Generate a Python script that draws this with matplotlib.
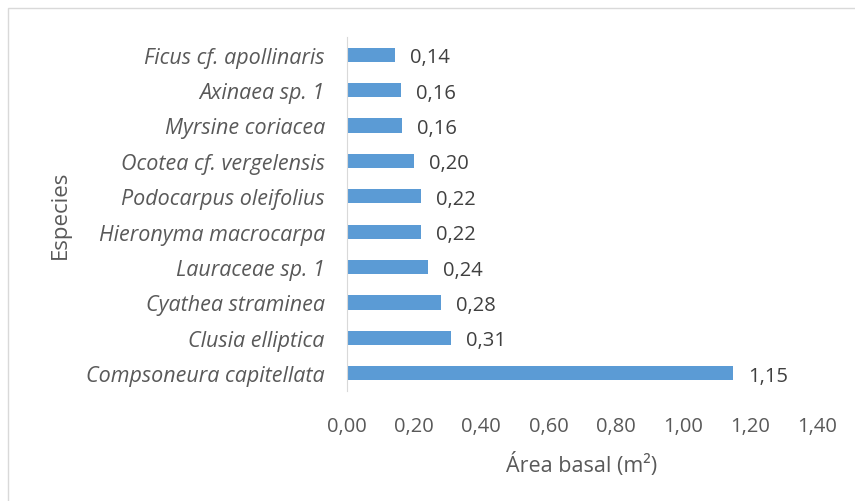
import matplotlib.pyplot as plt
from matplotlib.patches import Rectangle

plt.rcParams['font.family'] = ['Open Sans', 'DejaVu Sans']

# datos (de abajo hacia arriba)
especies = ['Compsoneura capitellata', 'Clusia elliptica', 'Cyathea straminea',
            'Lauraceae sp. 1', 'Hieronyma macrocarpa', 'Podocarpus oleifolius',
            'Ocotea cf. vergelensis', 'Myrsine coriacea', 'Axinaea sp. 1',
            'Ficus cf. apollinaris']
area_basal = [1.15, 0.31, 0.28, 0.24, 0.22, 0.22, 0.20, 0.163, 0.16, 0.144]
ticks_x = [0.0, 0.2, 0.4, 0.6, 0.8, 1.0, 1.2, 1.4]

W, H = 855, 502
gris = '#595959'
azul = '#5B9BD5'

fig = plt.figure(figsize=(W / 100, H / 100), dpi=100)
ax = fig.add_axes([347 / W, 1 - 392 / H, (817 - 347) / W, (392 - 38) / H])

ax.barh(range(len(especies)), area_basal, height=0.4, color=azul)
ax.set_xlim(0, 1.4)
ax.set_ylim(-0.5, len(especies) - 0.5)

for i, v in enumerate(area_basal):
    ax.text(v + 0.045, i - 0.07, f'{v:.2f}'.replace('.', ','), va='center',
            ha='left', fontsize=14.5, color='#404040')

ax.set_yticks(range(len(especies)))
ax.set_yticklabels(especies, fontsize=15.5, style='italic', color=gris)
ax.set_xticks(ticks_x)
ax.set_xticklabels([f'{t:.2f}'.replace('.', ',') for t in ticks_x], fontsize=14.5, color=gris)
ax.tick_params(axis='both', length=0)
ax.tick_params(axis='y', pad=16)
ax.tick_params(axis='x', pad=18)

for s in ['top', 'right', 'bottom']:
    ax.spines[s].set_visible(False)
ax.spines['left'].set_color('#D9D9D9')

fig.text(60 / W, 1 - 215 / H, 'Especies', rotation=90, ha='center', va='center',
         fontsize=16, color=gris)
fig.text(582 / W, 1 - 465 / H, 'Área basal (m²)', ha='center', va='center',
         fontsize=15.5, color=gris)

# marco del gráfico
fig.patches.append(Rectangle((8 / W, -0.1), 1.2, 1 - 9 / H + 0.1, transform=fig.transFigure,
                             fill=False, edgecolor='#D9D9D9', linewidth=1))

fig.savefig('out.png', dpi=100)
